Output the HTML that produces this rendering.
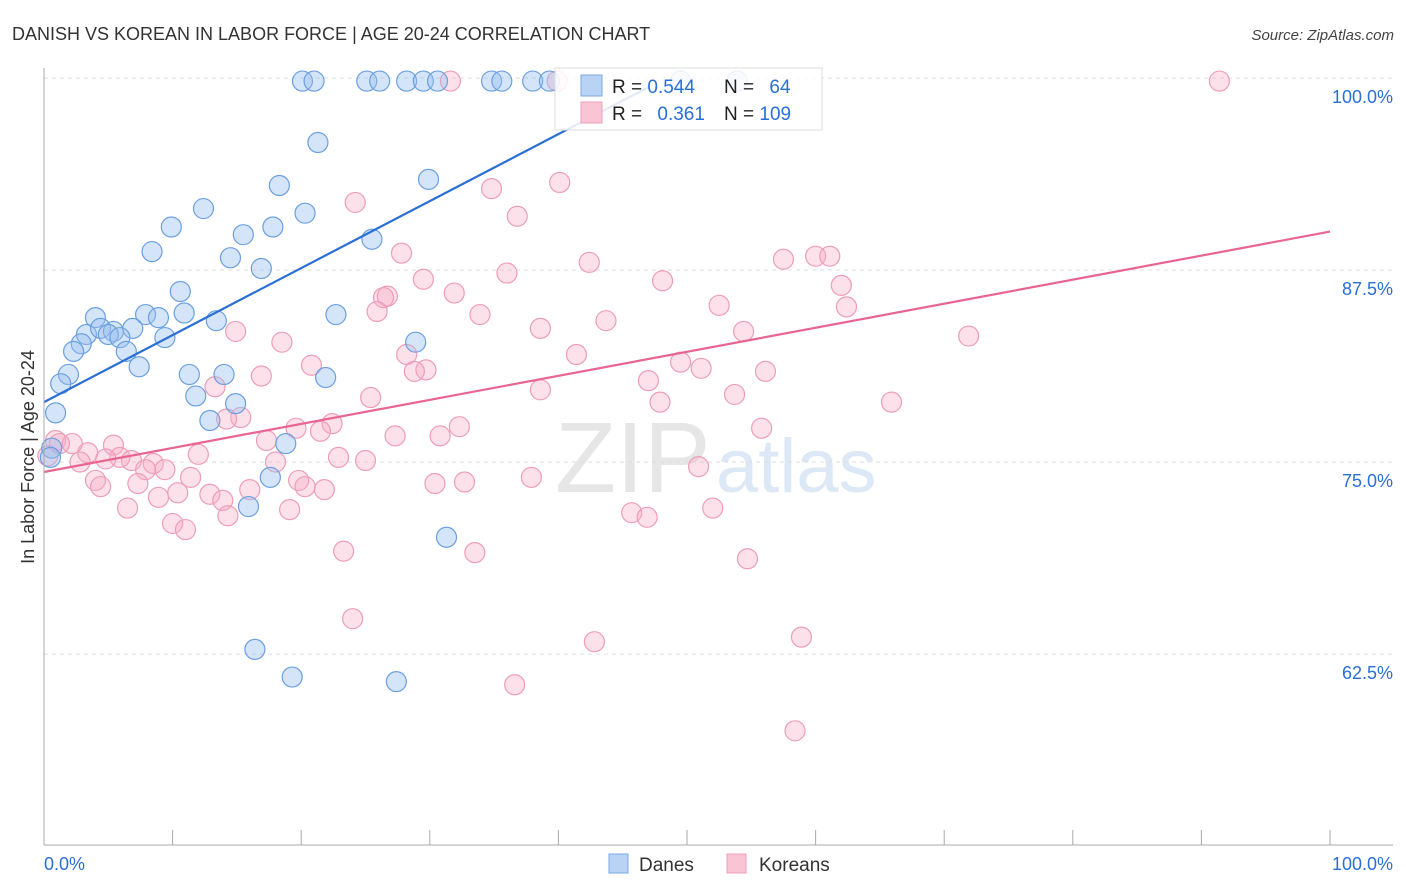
<!DOCTYPE html>
<html><head><meta charset="utf-8"><style>
body{margin:0;background:#fff;font-family:"Liberation Sans",sans-serif;}
#wrap{position:relative;width:1406px;height:892px;overflow:hidden;}
svg text{font-family:"Liberation Sans",sans-serif;}
</style></head><body>
<div id="wrap">
<svg id="chart" width="1406" height="892">
<text x="12" y="40" font-size="18" fill="#333">DANISH VS KOREAN IN LABOR FORCE | AGE 20-24 CORRELATION CHART</text>
<text x="1394" y="40" font-size="15" fill="#444" font-style="italic" text-anchor="end">Source: ZipAtlas.com</text>
<text x="555" y="492" font-size="100" fill="#e6e6e6" font-family="Liberation Serif">ZIP</text>
<text x="716" y="492" font-size="76" fill="#dce8f6">atlas</text>
<g id="grid"></g>
<g id="marks"></g>
<g id="trends"></g>
<g id="axes"></g>
<text transform="translate(34,457) rotate(-90)" font-size="18" fill="#333" text-anchor="middle">In Labor Force | Age 20-24</text>
<g>
<rect x="555" y="68" width="267" height="62" fill="rgba(255,255,255,0.85)" stroke="#ddd"/>
<rect x="581" y="75" width="21" height="21" fill="#b8d3f3" stroke="#7aaae6"/>
<rect x="581" y="102" width="21" height="21" fill="#f9c5d4" stroke="#eea0b8"/>
<text x="612" y="93" font-size="19" fill="#222">R = <tspan fill="#2a6fd6">0.544</tspan></text>
<text x="724" y="93" font-size="19" fill="#222">N = <tspan fill="#2a6fd6" dx="10">64</tspan></text>
<text x="612" y="120" font-size="19" fill="#222">R = <tspan fill="#2a6fd6" dx="10">0.361</tspan></text>
<text x="724" y="120" font-size="19" fill="#222">N = <tspan fill="#2a6fd6">109</tspan></text>
</g>
<g>
<rect x="609" y="854" width="19" height="19" fill="#b8d3f3" stroke="#7aaae6"/>
<text x="639" y="871" font-size="19" fill="#333">Danes</text>
<rect x="727" y="854" width="19" height="19" fill="#f9c5d4" stroke="#eea0b8"/>
<text x="759" y="871" font-size="19" fill="#333">Koreans</text>
</g>
</svg>
</div>
<script>
const danesX=[20.1,21.0,25.1,26.1,28.2,29.5,30.6,34.8,35.6,38.0,39.3,49.5,53.9,21.3,29.9,18.3,12.4,20.3,9.9,17.8,15.5,25.5,8.4,14.5,16.9,10.6,4.0,7.9,8.9,10.9,22.7,13.4,3.3,4.4,5.4,5.0,6.9,5.9,9.4,28.9,2.9,2.3,6.4,7.4,1.9,11.3,14.0,21.9,1.3,11.8,14.9,0.9,12.9,18.8,0.6,0.5,17.6,15.9,31.3,16.4,19.3,27.4];
const danesY=[99.8,99.8,99.8,99.8,99.8,99.8,99.8,99.8,99.8,99.8,99.8,99.8,99.8,95.8,93.4,93.0,91.5,91.2,90.3,90.3,89.8,89.5,88.7,88.3,87.6,86.1,84.4,84.6,84.4,84.7,84.6,84.2,83.3,83.7,83.5,83.3,83.7,83.1,83.1,82.8,82.7,82.2,82.2,81.2,80.7,80.7,80.7,80.5,80.1,79.3,78.8,78.2,77.7,76.2,75.9,75.3,74.0,72.1,70.1,62.8,61.0,60.7];
const koreansX=[31.6,39.9,91.4,40.1,34.8,24.2,36.8,27.8,42.4,36.0,48.1,57.5,60.0,61.1,29.5,31.9,26.7,26.4,62.0,52.5,25.9,33.9,43.7,62.4,14.9,38.6,54.4,71.9,18.5,28.2,41.4,49.5,51.1,20.8,16.9,29.7,28.8,47.0,13.3,38.6,53.7,56.1,65.9,25.4,47.9,15.3,14.2,19.6,22.4,21.5,32.3,27.3,30.8,55.8,0.9,2.2,5.4,17.3,3.4,5.9,6.8,12.0,22.9,25.0,2.8,4.8,8.5,18.0,7.9,9.4,50.9,37.9,11.4,4.0,4.4,7.3,19.8,20.3,21.8,30.4,32.7,8.9,10.4,12.9,13.9,16.0,6.5,14.3,19.1,52.0,45.7,46.9,10.0,11.0,23.3,33.5,54.7,24.0,42.8,58.9,36.6,58.4,1.2,0.3];
const koreansY=[99.8,99.8,99.8,93.2,92.8,91.9,91.0,88.6,88.0,87.3,86.8,88.2,88.4,88.4,86.9,86.0,85.8,85.7,86.5,85.2,84.8,84.6,84.2,85.1,83.5,83.7,83.5,83.2,82.8,82.0,82.0,81.5,81.1,81.3,80.6,81.0,80.9,80.3,79.9,79.7,79.4,80.9,78.9,79.2,78.9,77.9,77.8,77.2,77.5,77.0,77.3,76.7,76.7,77.2,76.4,76.2,76.1,76.4,75.6,75.3,75.1,75.5,75.3,75.1,75.0,75.2,74.9,75.0,74.5,74.5,74.7,74.0,74.0,73.8,73.4,73.6,73.8,73.4,73.2,73.6,73.7,72.7,73.0,72.9,72.5,73.2,72.0,71.5,71.9,72.0,71.7,71.4,71.0,70.6,69.2,69.1,68.7,64.8,63.3,63.6,60.5,57.5,76.2,75.4];
const danesTrendX=[0,47];
const danesTrendY=[78.9,99.4];
const koreansTrendX=[0,100];
const koreansTrendY=[74.35,90.0];
const yTicks=[100,87.5,75,62.5];
const yTickLabels=["100.0%","87.5%","75.0%","62.5%"];

const NS="http://www.w3.org/2000/svg";
const X0=44,X1=1330,Y100=78,PX_PER=192/12.5;
function xs(v){return X0+(X1-X0)*v/100;}
function ys(v){return Y100+(100-v)*PX_PER;}
function mk(tag,attrs,parent){const e=document.createElementNS(NS,tag);for(const k in attrs)e.setAttribute(k,attrs[k]);parent.appendChild(e);return e;}

const grid=document.getElementById('grid');
yTicks.forEach((t,i)=>{
  const l=mk('line',{x1:X0,x2:1393,y1:ys(t),y2:ys(t),stroke:'#ddd','stroke-dasharray':'4,4'},grid);
  
  
  const tx=mk('text',{x:1393,y:ys(t)+25,'font-size':18,fill:'#2a6fd6','text-anchor':'end'},grid);
  tx.textContent=yTickLabels[i];
  
  
});

const axes=document.getElementById('axes');
const ya=mk('line',{x1:X0,x2:X0,y1:68,y2:845,stroke:'#aaa'},axes);


const xa=mk('line',{x1:X0,x2:1393,y1:845,y2:845,stroke:'#aaa'},axes);


for(let i=0;i<=10;i++){
  const t=mk('line',{x1:xs(i*10),x2:xs(i*10),y1:830,y2:845,stroke:'#aaa'},axes);
  
  
}
const xl0=mk('text',{x:44,y:870,'font-size':18,fill:'#2a6fd6'},axes);xl0.textContent='0.0%';


const xl1=mk('text',{x:1393,y:870,'font-size':18,fill:'#2a6fd6','text-anchor':'end'},axes);xl1.textContent='100.0%';



const marks=document.getElementById('marks');
koreansX.forEach((x,i)=>{
  const c=mk('circle',{cx:xs(x),cy:ys(koreansY[i]),r:10,fill:'rgba(246,170,195,0.35)',stroke:'#ee9db7','stroke-width':1.2},marks);
  
  
});
danesX.forEach((x,i)=>{
  const c=mk('circle',{cx:xs(x),cy:ys(danesY[i]),r:10,fill:'rgba(150,190,240,0.4)',stroke:'#6a9fe0','stroke-width':1.2},marks);
  
  
});

const tr=document.getElementById('trends');
const tb=mk('line',{x1:xs(danesTrendX[0]),y1:ys(danesTrendY[0]),x2:xs(danesTrendX[1]),y2:ys(danesTrendY[1]),stroke:'#2a6fd6','stroke-width':2.2},tr);


const tp=mk('line',{x1:xs(koreansTrendX[0]),y1:ys(koreansTrendY[0]),x2:xs(koreansTrendX[1]),y2:ys(koreansTrendY[1]),stroke:'#e8658f','stroke-width':2.2},tr);


</script>
</body></html>
